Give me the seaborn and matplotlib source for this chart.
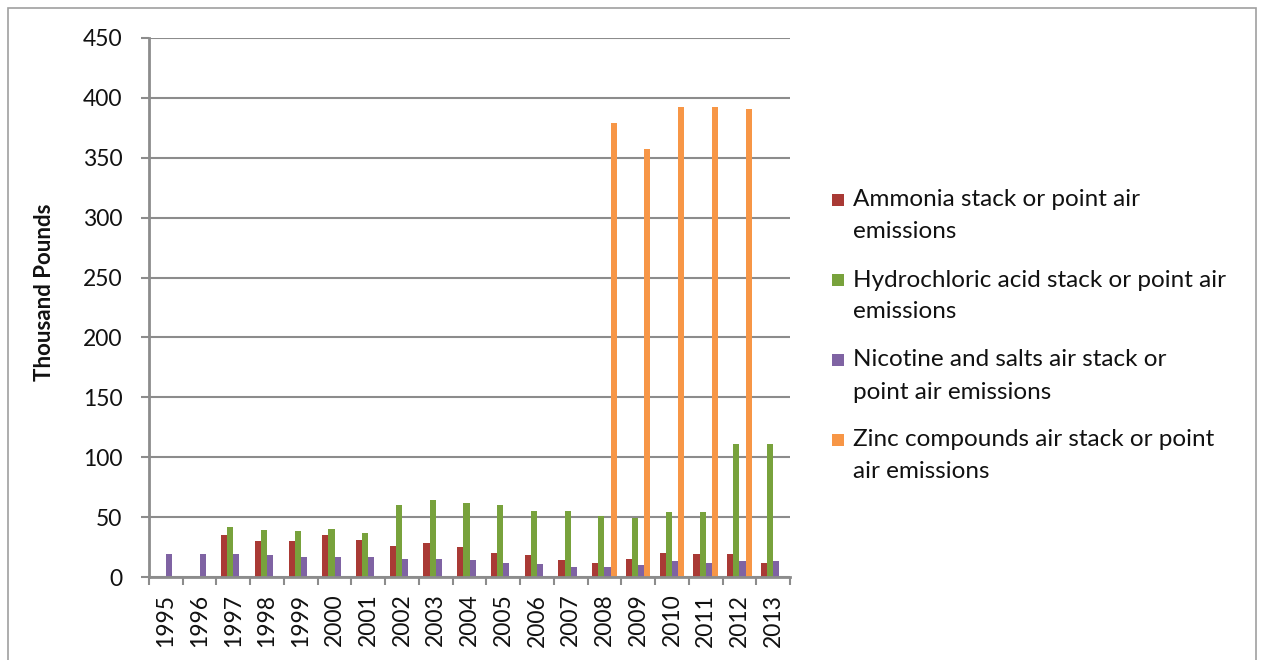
import matplotlib
matplotlib.use("Agg")
import matplotlib.pyplot as plt
import matplotlib.patches as mpatches
import seaborn as sns
import pandas as pd
import numpy as np

years = [str(y) for y in range(1995, 2014)]
ammonia = [0, 0, 35, 30, 30, 35, 31, 26, 28, 25, 20, 18, 14, 12, 15, 20, 19, 19, 12]
hcl = [0, 0, 42, 39, 38, 40, 37, 60, 64, 62, 60, 55, 55, 51, 49, 54, 54, 111, 111]
nicotine = [19, 19, 19, 18, 17, 17, 17, 15, 15, 14, 12, 11, 8, 8, 10, 13, 12, 13, 13]
zinc = [0, 0, 0, 0, 0, 0, 0, 0, 0, 0, 0, 0, 0, 379, 357, 392, 392, 391, 0]

series_names = [
    "Ammonia stack or point air\nemissions",
    "Hydrochloric acid stack or point air\nemissions",
    "Nicotine and salts air stack or\npoint air emissions",
    "Zinc compounds air stack or point\nair emissions",
]
colors = ["#A93A35", "#78A23C", "#7F63A3", "#F79646"]
yticks = [0, 50, 100, 150, 200, 250, 300, 350, 400, 450]

rows = []
for name, vals in zip(series_names, [ammonia, hcl, nicotine, zinc]):
    for yr, v in zip(years, vals):
        rows.append({"Year": yr, "Series": name, "Value": v})
df = pd.DataFrame(rows)

sns.set_style("white")
plt.rcParams["font.family"] = ["Lato", "DejaVu Sans"]

W, H = 1262, 660
fig = plt.figure(figsize=(W / 100, H / 100), dpi=100)
ax = fig.add_axes([149 / W, 83 / H, (790 - 149) / W, (577 - 38) / H])

sns.barplot(data=df, x="Year", y="Value", hue="Series", palette=colors,
            width=4 / 5.5, gap=0, ax=ax, legend=False, saturation=1,
            edgecolor="none", linewidth=0)

gridc = "#8C8C8C"
txtc = "#111111"
ax.set_ylim(0, 450)
ax.set_yticks(yticks)
ax.set_yticklabels([str(t) for t in yticks], fontsize=16.5, color=txtc)
ax.yaxis.grid(True, color=gridc, linewidth=1.5)
ax.set_axisbelow(True)
ax.set_xlim(-0.5, len(years) - 0.5)

for s in ["top", "right"]:
    ax.spines[s].set_visible(False)
ax.spines["left"].set_color(gridc)
ax.spines["left"].set_linewidth(2)
ax.spines["bottom"].set_color(gridc)
ax.spines["bottom"].set_linewidth(2)

ax.tick_params(axis="y", which="major", length=6, width=1.5, color=gridc, pad=13, left=True)
ax.set_xticks(np.arange(len(years)))
ax.set_xticklabels(years, rotation=90, fontsize=16.5, color=txtc)
ax.tick_params(axis="x", which="major", length=0, pad=12)
ax.set_xticks(np.arange(len(years) + 1) - 0.5, minor=True)
ax.tick_params(axis="x", which="minor", length=6, width=1.5, color=gridc, bottom=True)

ax.set_xlabel("")
ax.set_ylabel("")
fig.text(45 / W, 1 - 292 / H, "Thousand Pounds", rotation=90, fontsize=16,
         fontweight="bold", color=txtc, ha="center", va="center")

# legend (manual layout so the key square aligns with the first text line)
leg_top = 200
pitch = 80
line_gap = 32
for i, (c, n) in enumerate(zip(colors, series_names)):
    y0 = leg_top + i * pitch
    fig.patches.append(mpatches.Rectangle((832 / W, 1 - (y0 + 6) / H), 12 / W, 12 / H,
                                          transform=fig.transFigure, facecolor=c,
                                          edgecolor="none"))
    for j, line in enumerate(n.split("\n")):
        fig.text(853 / W, 1 - (y0 + j * line_gap) / H, line, fontsize=17.5,
                 color=txtc, ha="left", va="center")

border = mpatches.Rectangle((8 / W, -0.05), (1256 - 8) / W, 1.05 - 8 / H,
                            transform=fig.transFigure, fill=False,
                            edgecolor="#A0A0A0", linewidth=1.2)
fig.patches.append(border)

fig.savefig("out.png", dpi=100)
